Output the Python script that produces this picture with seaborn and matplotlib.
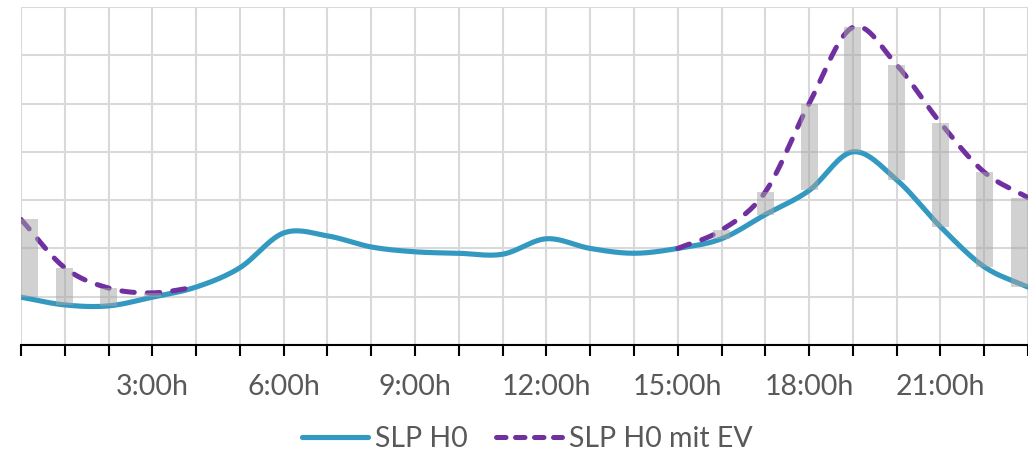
import numpy as np
import pandas as pd
import matplotlib
matplotlib.use("Agg")
import matplotlib.pyplot as plt
import seaborn as sns
from matplotlib.lines import Line2D

hours = list(range(24))
slp_h0 = [0.99, 0.83, 0.81, 0.99, 1.20, 1.60, 2.32, 2.26, 2.03, 1.93, 1.90, 1.88,
          2.20, 2.00, 1.90, 2.00, 2.20, 2.70, 3.20, 4.00, 3.42, 2.45, 1.62, 1.20]
slp_h0_ev = [2.60, 1.60, 1.18, 1.08, 1.20, None, None, None, None, None, None, None,
             None, None, None, 2.00, 2.38, 3.17, 5.00, 6.58, 5.80, 4.60, 3.58, 3.05]
tick_labels = ["", "", "", "3:00h", "", "", "6:00h", "", "", "9:00h", "", "", "12:00h",
               "", "", "15:00h", "", "", "18:00h", "", "", "21:00h", "", ""]
series_names = ["SLP H0", "SLP H0 mit EV"]

BLUE = "#3399c0"
PURPLE = "#7030a0"
TXT = "#595959"


def smooth_runs(xs, ys, n=20):
    """Hermite (Catmull-Rom style) smoothing within each contiguous run of valid points."""
    xs = np.asarray(xs, float)
    ys = np.array([np.nan if v is None else v for v in ys], float)
    valid = ~np.isnan(ys)
    runs, i = [], 0
    while i < len(xs):
        if valid[i]:
            j = i
            while j + 1 < len(xs) and valid[j + 1]:
                j += 1
            runs.append((i, j))
            i = j + 1
        else:
            i += 1
    frames = []
    for r, (a, b) in enumerate(runs):
        px, py = xs[a:b + 1], ys[a:b + 1]
        m = np.zeros_like(py)
        if len(py) > 1:
            m[1:-1] = (py[2:] - py[:-2]) / 2.0
            m[0] = py[1] - py[0]
            m[-1] = py[-1] - py[-2]
        ox, oy = [], []
        for k in range(len(py) - 1):
            t = np.linspace(0, 1, n, endpoint=False)
            h00 = 2 * t**3 - 3 * t**2 + 1
            h10 = t**3 - 2 * t**2 + t
            h01 = -2 * t**3 + 3 * t**2
            h11 = t**3 - t**2
            ox.extend(px[k] + t)
            oy.extend(h00 * py[k] + h10 * m[k] + h01 * py[k + 1] + h11 * m[k + 1])
        ox.append(px[-1]); oy.append(py[-1])
        frames.append(pd.DataFrame({"x": ox, "y": oy, "run": r}))
    return frames


sns.set_theme(style="white")
plt.rcParams["font.family"] = ["Lato", "DejaVu Sans"]

fig = plt.figure(figsize=(10.28, 4.55), dpi=100)
ax = fig.add_axes([21 / 1028, 1 - 345 / 455, 1 - 21 / 1028, (345 - 7) / 455])

for df in smooth_runs(hours, slp_h0):
    sns.lineplot(data=df, x="x", y="y", ax=ax, color=BLUE, linewidth=3.7,
                 zorder=3, sort=False, estimator=None)
    ax.lines[-1].set_solid_capstyle("round")

for df in smooth_runs(hours, slp_h0_ev):
    sns.lineplot(data=df, x="x", y="y", ax=ax, color=PURPLE, linewidth=3.6,
                 zorder=4, sort=False, estimator=None)
    ln = ax.lines[-1]
    ln.set_dash_capstyle("round")
    ln.set_dashes([2.5, 2.6])

# difference bars
w = 0.39
for h, a, b in zip(hours, slp_h0, slp_h0_ev):
    if b is None:
        continue
    left = min(max(h - w / 2, 0), 23 - w)
    ax.bar(left, b - a, width=w, bottom=a, align="edge",
           color="#a5a5a5", alpha=0.5, linewidth=0, zorder=5)

ax.set_xlim(0, 23)
ax.set_ylim(0, 7)
ax.set_xticks(hours)
ax.set_xticklabels(tick_labels)
ax.set_yticks(range(8))
ax.set_yticklabels([])
ax.set_xlabel("")
ax.set_ylabel("")
ax.grid(True, color="#d9d9d9", linewidth=1.5, zorder=0)
ax.set_axisbelow(True)
for s in ["top", "right", "left"]:
    ax.spines[s].set_visible(False)
ax.spines["bottom"].set_color("black")
ax.spines["bottom"].set_linewidth(1.5)
ax.spines["bottom"].set_zorder(6)
ax.tick_params(axis="x", bottom=True, direction="out", length=8, width=1.5,
               color="black", labelsize=20.5, labelcolor=TXT, pad=13)
ax.tick_params(axis="y", left=False, length=0)

handles = [Line2D([], [], color=BLUE, linewidth=3.7, solid_capstyle="round"),
           Line2D([], [], color=PURPLE, linewidth=3.6, dashes=[1.9, 1.9],
                  dash_capstyle="round")]
fig.legend(handles, series_names, loc="center", bbox_to_anchor=(0.513, 1 - 439 / 455),
           ncol=2, frameon=False, fontsize=20.5, labelcolor=TXT, handlelength=2.3,
           handletextpad=0.25, columnspacing=1.0)

fig.savefig("out.png", dpi=100)
